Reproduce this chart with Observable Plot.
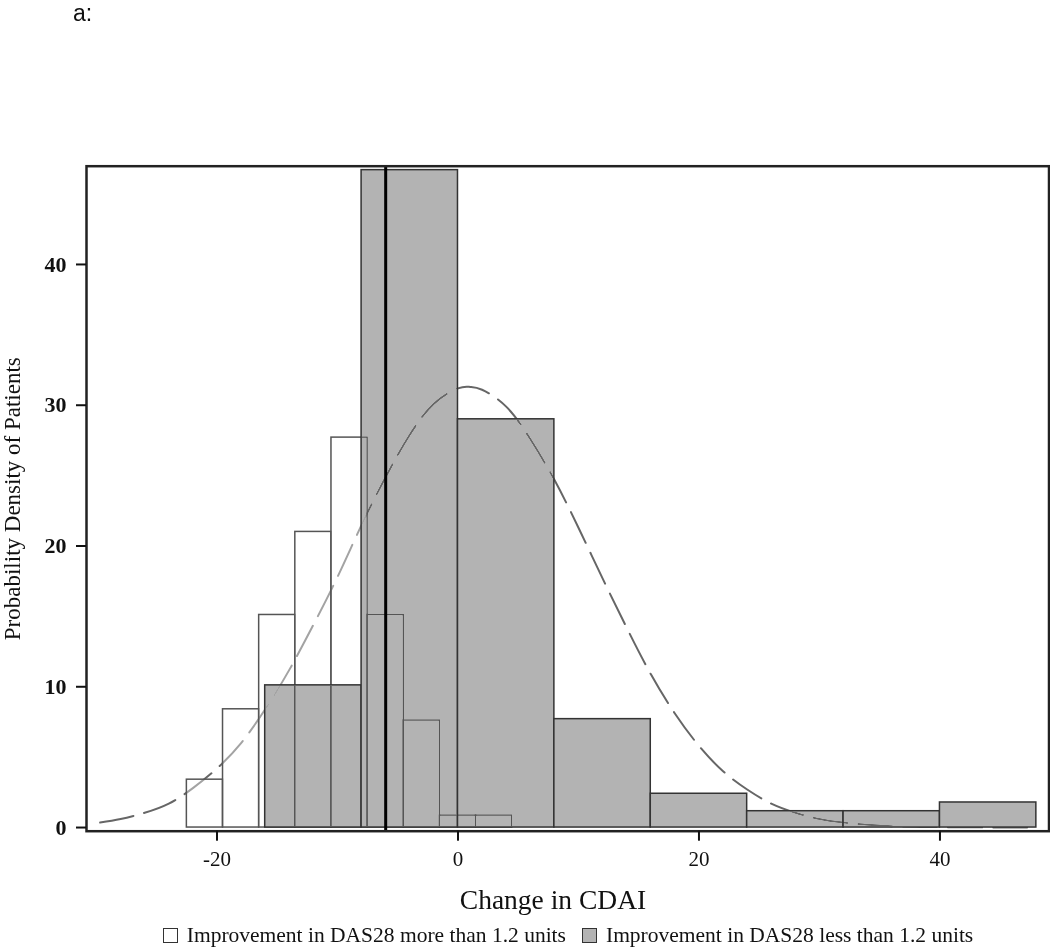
<!DOCTYPE html>
<html>
<head>
<meta charset="utf-8">
<script src="https://cdn.jsdelivr.net/npm/d3@7"></script>
<script src="https://cdn.jsdelivr.net/npm/@observablehq/plot@0.6"></script>
<style>
  html, body { margin: 0; padding: 0; background: #fff; }
  #wrap { position: relative; width: 1050px; height: 947px; overflow: hidden; }
  #title { position: absolute; left: 73px; top: 2px; font: 23px "Liberation Sans", Arial, sans-serif; color: #111; line-height: 23px; }
  #chart { position: absolute; left: 0; top: 40px; }
  #xlabel { position: absolute; left: 0; width: 1106px; top: 884px; text-align: center;
            font: 27.5px "Liberation Serif", "Times New Roman", serif; color: #111; line-height: 32px; }
  #legend { position: absolute; left: 86px; top: 921px; width: 964px; display: flex; justify-content: center; gap: 16px;
            font: 21.5px "Liberation Serif", "Times New Roman", serif; color: #111; line-height: 28px; }
  .item { display: flex; align-items: center; gap: 9px; }
  .sw { width: 15px; height: 15px; box-sizing: border-box; border: 1.5px solid #333; }
</style>
</head>
<body>
<div id="wrap">
  <div id="title">a:</div>
  <div id="chart"></div>
  <div id="xlabel"></div>
  <div id="legend"></div>
</div>
<script>
// ---- Data ----
// Group with improvement in DAS28 more than 1.2 units (white bars, bin width 3)
const whiteBinStart = [-22.5, -19.5, -16.5, -13.5, -10.5, -7.5, -4.5, -1.5, 1.5];
const whiteDensity  = [3.4, 8.4, 15.1, 21.0, 27.7, 15.1, 7.6, 0.85, 0.85];
const whiteBinWidth = 3;

// Group with improvement in DAS28 less than 1.2 units (gray bars, bin width 8)
const grayBinStart = [-16, -8, 0, 8, 16, 24, 32, 40];
const grayDensity  = [10.1, 46.7, 29.0, 7.7, 2.4, 1.16, 1.16, 1.78];
const grayBinWidth = 8;

// Dashed density curve
const curveX = [-29.7, -28, -26, -24, -22, -20, -18, -16, -14, -12, -10, -8, -6, -4, -2, 0, 1, 2, 4, 6, 8, 10, 12, 14, 16, 18, 20, 22, 24, 26, 28, 30, 32, 34, 36, 38, 40, 44, 48];
const curveY = [0.35, 0.6, 1.05, 1.7, 2.8, 4.2, 6.0, 8.4, 11.2, 14.4, 17.8, 21.5, 24.9, 27.9, 30.1, 31.2, 31.3, 31.1, 29.9, 27.6, 24.7, 21.3, 17.7, 14.2, 10.9, 8.1, 5.8, 4.0, 2.7, 1.7, 1.05, 0.6, 0.35, 0.2, 0.1, 0.05, 0.03, 0.01, 0.0];

// Vertical reference line
const cutoff = [-6];

// Axis ticks and labels
const xTicks = [-20, 0, 20, 40];
const yTicks = [0, 10, 20, 30, 40];
const xLabel = "Change in CDAI";
const yLabel = "Probability Density of Patients";
const legendLabels = ["Improvement in DAS28 more than 1.2 units", "Improvement in DAS28 less than 1.2 units"];
const legendColors = ["#ffffff", "#b3b3b3"];

// ---- Tables built from the arrays ----
const whiteBars = whiteBinStart.map((x, i) => ({x1: x, x2: x + whiteBinWidth, y: whiteDensity[i]}));
const grayBars = grayBinStart.map((x, i) => ({x1: x, x2: x + grayBinWidth, y: grayDensity[i]}));
const curve = curveX.map((x, i) => ({x, y: curveY[i]}));

const serif = "'Liberation Serif', 'Times New Roman', serif";

const chart = Plot.plot({
  width: 1050,
  height: 840,
  marginLeft: 86,
  marginRight: 1.5,
  marginTop: 125.7,
  marginBottom: 49.3,
  style: {fontFamily: serif, color: "#111", background: "transparent", overflow: "visible"},
  x: {domain: [-30.83, 49.05]},
  y: {domain: [-0.26, 46.98]},
  marks: [
    Plot.line(curve, {x: "x", y: "y", stroke: "#666", strokeWidth: 2, strokeDasharray: "34,11", curve: "natural"}),
    Plot.rect(whiteBars, {x1: "x1", x2: "x2", y1: 0, y2: "y", fill: "white", fillOpacity: 0.4, stroke: "#555", strokeWidth: 1.5}),
    Plot.rect(grayBars, {x1: "x1", x2: "x2", y1: 0, y2: "y", fill: "#b3b3b3", stroke: "#333", strokeWidth: 1.5, mixBlendMode: "darken"}),
    Plot.ruleX(cutoff, {stroke: "#000", strokeWidth: 3}),
    Plot.frame({stroke: "#222", strokeWidth: 2.5}),
    Plot.axisX({ticks: xTicks, tickFormat: d => String(d), tickSize: 10, tickPadding: 10, fontSize: 21, strokeWidth: 2, stroke: "#111", label: null}),
    Plot.axisY({ticks: yTicks, tickFormat: d => String(d), tickSize: 10, tickPadding: 10, fontSize: 22, fontWeight: "bold", strokeWidth: 2, stroke: "#111", label: null}),
    Plot.axisY({ticks: [], label: yLabel, labelAnchor: "center", labelArrow: "none", fontSize: 23})
  ]
});
document.getElementById("chart").appendChild(chart);
document.getElementById("xlabel").textContent = xLabel;

const legend = document.getElementById("legend");
legendLabels.forEach((lab, i) => {
  const item = document.createElement("div");
  item.className = "item";
  const sw = document.createElement("div");
  sw.className = "sw";
  sw.style.background = legendColors[i];
  const t = document.createElement("span");
  t.textContent = lab;
  item.appendChild(sw);
  item.appendChild(t);
  legend.appendChild(item);
});
</script>
</body>
</html>
